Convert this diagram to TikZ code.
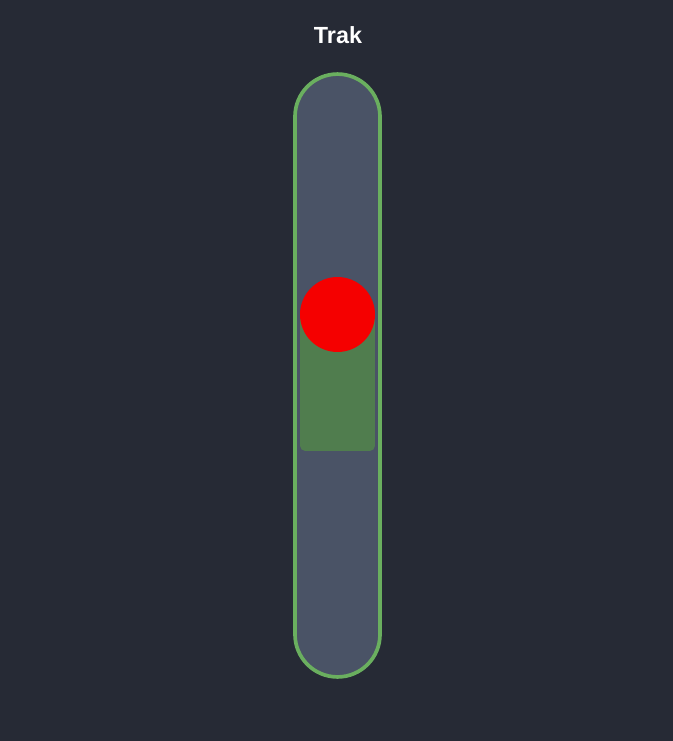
\documentclass[tikz,border=0pt]{standalone}
\usepackage{fontspec}
\setmainfont{Liberation Sans}
\usetikzlibrary{positioning}
\definecolor{bgdark}{HTML}{262A35}
\definecolor{trackfill}{HTML}{4A5366}
\definecolor{trackline}{HTML}{6AAF5F}
\definecolor{levelgreen}{HTML}{507D4E}
\definecolor{knobred}{HTML}{F50000}

\begin{document}
\begin{tikzpicture}[
  x=0.02cm, y=-0.02cm,
  trackbox/.style={draw=trackline, line width=2.1pt, fill=trackfill,
    minimum width=1.7cm, minimum height=12.06cm, rounded corners=0.85cm,
    inner sep=0pt},
  levelbox/.style={fill=levelgreen, rounded corners=3pt,
    minimum width=1.5cm, minimum height=2.72cm, inner sep=0pt},
  knob/.style={circle, fill=knobred, minimum size=1.5cm, inner sep=0pt},
]

% Background
\fill[bgdark] (0,0) rectangle (673,741);
\useasboundingbox (0,0) rectangle (673,741);

% Title
\node[font=\fontsize{13.3}{16}\selectfont\bfseries, text=white] (title) at (338,35) {Trak};

% Track
\node[trackbox] (track) at (337.5,375.5) {};

% Level
\node[levelbox] (level) at (337.5,383) {};

% Knob
\node[knob] (knob) at (337.5,314.5) {};

\end{tikzpicture}
\end{document}
